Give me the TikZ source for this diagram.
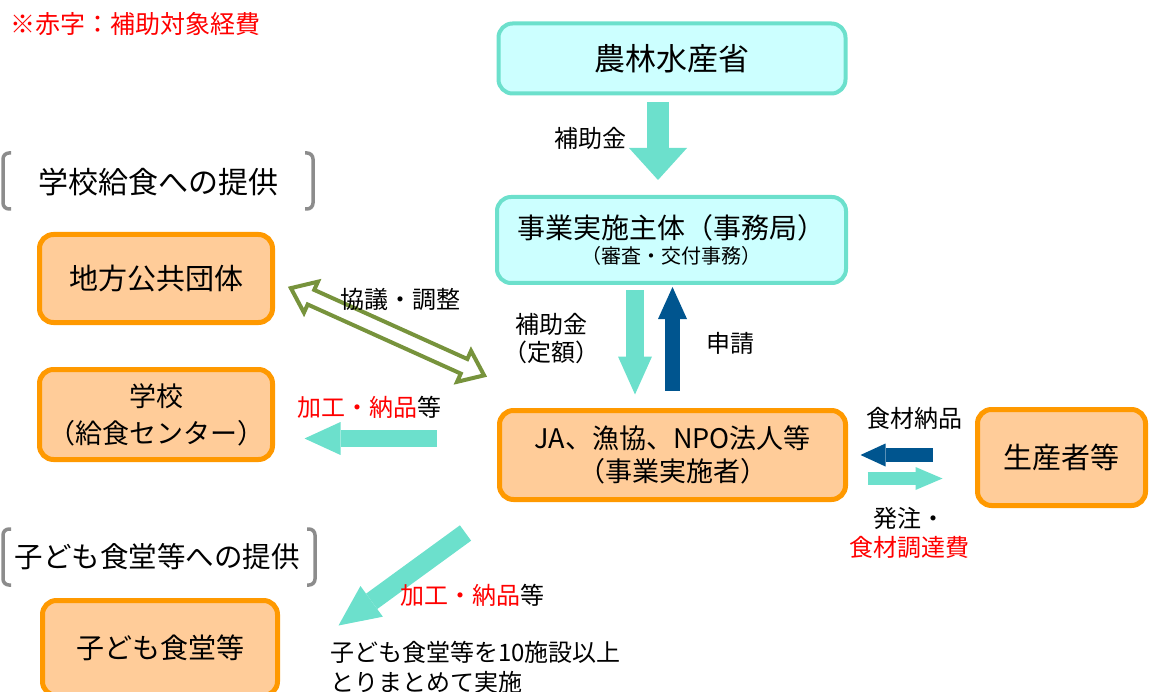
\documentclass[tikz,border=0pt]{standalone}
\usepackage{fontspec}
\setmainfont{Noto Sans CJK JP}
\usetikzlibrary{arrows.meta,calc}
\definecolor{hojo}{RGB}{108,224,204}
\definecolor{sora}{RGB}{204,255,255}
\definecolor{daidai}{RGB}{255,153,0}
\definecolor{usudaidai}{RGB}{255,204,153}
\definecolor{ai}{RGB}{0,85,143}
\definecolor{uguisu}{RGB}{119,147,60}
\definecolor{nezumi}{RGB}{140,140,140}
\def\fs#1#2{\fontsize{#1pt}{#2pt}\selectfont}
\def\kakko(#1,#2)(#3,#4){\draw[kakkosen] ({#1+8},#2) -- (#1,#2) -- (#1,#4) -- ({#1+8},#4); \draw[kakkosen] ({#3-8},#2) -- (#3,#2) -- (#3,#4) -- ({#3-8},#4);}

\begin{document}
\begin{tikzpicture}[x=1pt, y=-1pt,
		mizu/.style={draw=hojo, fill=sora, line width=4pt, rounded corners=14pt},
		kaki/.style={draw=daidai, fill=usudaidai, line width=5pt, rounded corners=14pt},
		kakkosen/.style={draw=nezumi, line width=3.5pt, rounded corners=6pt},
		futoya/.style n args={4}{draw=#1, line width=#2, -{Triangle[width=#3, length=#4, line width=0pt]}},
		kyogiya/.style={draw=uguisu, fill=white, line width=4pt, line join=miter}]
			%%%%% START %%%%%
			
			\useasboundingbox (0,0) rectangle (1150,692);
			
			\node[font=\fs{25}{30}, text=red, anchor=west, inner sep=0pt] (chui) at (10,24) {※赤字：補助対象経費};
			
			\node[mizu, minimum width=347pt, minimum height=70pt, font=\fs{31}{37}] (maff) at (672,58.5) {農林水産省};
			\node[mizu, minimum width=349pt, minimum height=86pt, align=center, font=\fs{28}{28}] (jimu) at (671.5,240) {事業実施主体（事務局）\\[-3pt]{\fs{20}{24}（審査・交付事務）}};
			\node[kaki, minimum width=346pt, minimum height=89pt, align=center, font=\fs{27}{33}] (ja) at (672.5,455) {JA、漁協、NPO法人等\\（事業実施者）};
			\node[kaki, minimum width=168pt, minimum height=96pt, font=\fs{29}{35}] (seisan) at (1061.5,457.5) {生産者等};
			
			\kakko(3,153)(313,209)
			\node[font=\fs{30}{36}] (gakkomidashi) at (158,182) {学校給食への提供};
			\node[kaki, minimum width=233pt, minimum height=88pt, font=\fs{29}{35}] (jichitai) at (156,278.5) {地方公共団体};
			\node[kaki, minimum width=233pt, minimum height=90pt, align=center, font=\fs{27}{37}] (gakko) at (156,414.5) {学校\\（給食センター）};
			
			\kakko(3,529)(315,585)
			\node[font=\fs{28.5}{34}] (kodomomidashi) at (157,557) {子ども食堂等への提供};
			\node[kaki, minimum width=235pt, minimum height=95pt, font=\fs{28}{34}] (kodomo) at (160,648) {子ども食堂等};
			
			% arrows
			\draw[futoya={hojo}{22pt}{58pt}{32pt}] ($(maff.south)+(-14,6.5)$) -- ($(jimu.north)+(-13.5,-15)$);
			\draw[futoya={hojo}{18pt}{34pt}{38pt}] ($(jimu.south)+(-36.5,5)$) -- ($(ja.north)+(-37.5,-13.5)$);
			\draw[futoya={ai}{15pt}{29pt}{32pt}] ($(ja.north)+(0,-17.5)$) -- ($(jimu.south)+(1,2)$);
			\draw[futoya={hojo}{17pt}{33pt}{36pt}] ($(ja.west)+(-60.5,-16.5)$) -- ($(gakko.east)+(29.5,24)$);
			\draw[futoya={ai}{14pt}{23pt}{25pt}] ($(seisan.west)+(-42.5,-2.5)$) -- ($(ja.east)+(12.5,0)$);
			\draw[futoya={hojo}{13pt}{23pt}{27pt}] ($(ja.east)+(19.5,23.5)$) -- ($(seisan.west)+(-32.5,21)$);
			\draw[futoya={hojo}{19pt}{38pt}{41pt}] ($(ja.south west)+(-31.5,31)$) -- ($(kodomo.north east)+(58.5,27.5)$);
			
			\coordinate (kyogiA) at ($(jichitai.east)+(15.5,9.5)$);
			\coordinate (kyogiB) at ($(ja.north west)+(-12.5,-32.5)$);
			\begin{scope}[shift={($(kyogiA)!0.5!(kyogiB)$)}, rotate=-24.3]
				\draw[kyogiya] (-106,0) -- (-84,17) -- (-84,8) -- (84,8) -- (84,17) -- (106,0) -- (84,-17) -- (84,-8) -- (-84,-8) -- (-84,-17) -- cycle;
			\end{scope}
			
			% labels
			\node[font=\fs{24}{29}] (hojo1) at (590,138) {補助金};
			\node[font=\fs{24}{28}, align=center] (hojo2) at (551,339) {補助金\\（定額）};
			\node[font=\fs{24}{29}] (shinsei) at (730,343) {申請};
			\node[font=\fs{24}{29}] (kyogi) at (400,299) {協議・調整};
			\node[font=\fs{24}{29}] (kako1) at (369,407) {\textcolor{red}{加工・納品}等};
			\node[font=\fs{24}{29}] (nohin) at (914,418) {食材納品};
			\node[font=\fs{24}{29}, align=center] (hatchu) at (909,532.5) {発注・\\\textcolor{red}{食材調達費}};
			\node[font=\fs{24}{29}] (kako2) at (472,595) {\textcolor{red}{加工・納品}等};
			\node[font=\fs{24}{30}, align=left, anchor=west, inner sep=0pt] (matome) at (330,667) {子ども食堂等を10施設以上\\とりまとめて実施};
			
			%%%%% END %%%%%
\end{tikzpicture}
\end{document}
